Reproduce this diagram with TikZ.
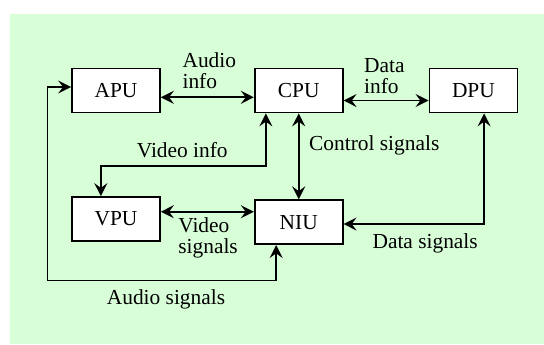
\documentclass[tikz,border=0pt]{standalone}
\usepackage{fontspec}
\setmainfont{Liberation Serif}
\usetikzlibrary{arrows.meta,positioning}
\definecolor{panelgreen}{RGB}{216,254,216}

\begin{document}
\begin{tikzpicture}[x=0.5pt,y=-0.5pt,>={Stealth[length=6.5pt,width=6.5pt,inset=2.4pt]},
  line width=0.85pt,font=\fontsize{10.7pt}{10.5pt}\selectfont]
\tikzstyle{unit} = [draw,rectangle,fill=white,minimum width=44pt,minimum height=22pt,inner sep=0pt]
\tikzstyle{note} = [inner sep=0pt,anchor=base west,align=left]
\tikzstyle{link} = [<->]

\useasboundingbox (0,0) rectangle (544,344);
\path[fill=panelgreen] (10,14) rectangle (544,344);

\node[unit] (APU) at (116,90.5) {APU};
\node[unit] (CPU) [right=46.5pt of APU] {CPU};
\node[unit] (DPU) [right=42.5pt of CPU] {DPU};
\node[unit] (VPU) [below=41.4pt of APU] {VPU};
\node[unit] (NIU) [below=43pt of CPU] {NIU};

% info paths between the processors
\draw[link] ([yshift=-3.4pt]APU.east) -- ([yshift=-3.4pt]CPU.west);
\draw[link] ([yshift=-5pt]CPU.east) -- ([yshift=-5pt]DPU.west);
\draw[link] ([xshift=6pt]CPU.south west) -- ++(0,52.5) -| ([xshift=14.85pt]VPU.north west);
\draw[link] (CPU) -- (NIU);

% signals to the NIU
\draw[link] ([yshift=3.65pt]VPU.east) -- ([yshift=5.25pt]NIU.west);
\draw[link] ([yshift=-0.9pt]NIU.east) -| ([xshift=5.35pt]DPU.south);
\draw[link] ([yshift=1.75pt]APU.west) -- ++(-23.7,0)
  |- ([xshift=11.15pt,yshift=-17.7pt]NIU.south west) -- ([xshift=11.15pt]NIU.south west);

% labels (two-line ones sit on their last line)
\node[note] (audioinfo) at (181.7,88.3) {Audio\\info};
\node[note] (datainfo) at (363.3,93.3) {Data\\info};
\node[note] (videoinfo) at (136,157.3) {Video info};
\node[note] (ctrl) at (308.3,150) {Control signals};
\node[note] (videosig) at (177.5,253.3) {Video\\signals};
\node[note] (datasig) at (371.7,248.3) {Data signals};
\node[note] (audiosig) at (106,304.3) {Audio signals};
\end{tikzpicture}
\end{document}
